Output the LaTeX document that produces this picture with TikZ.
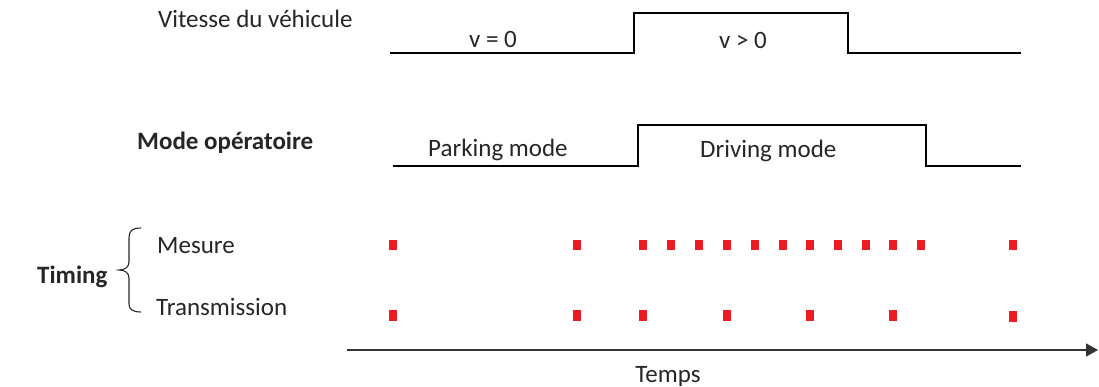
\documentclass[tikz,border=0pt]{standalone}
\usepackage{fontspec}
\setmainfont{Carlito}
\usetikzlibrary{arrows.meta}
\definecolor{txt}{HTML}{262626}
\definecolor{mark}{HTML}{ED1C24}
\begin{document}
\begin{tikzpicture}[x=1pt,y=-1pt,
  lbl/.style={inner sep=0pt,anchor=base west,text=txt,font=\fontsize{25}{30}\selectfont},
  clbl/.style={lbl,anchor=base},
  blbl/.style={lbl,font=\fontsize{25}{30}\selectfont\bfseries},
  wave/.style={line width=1.8pt,line join=miter},
  sq/.style={fill=mark,draw=none,minimum width=8pt,minimum height=10pt,inner sep=0pt}]
\useasboundingbox (0,0) rectangle (1099,387);
% texts
\node[lbl] (vit) at (158,28) {Vitesse du véhicule};
\node[clbl] (v0) at (493,48) {v = 0};
\node[clbl] (vp) at (743,49) {v > 0};
\node[blbl] (mode) at (137,150) {Mode opératoire};
\node[lbl] (park) at (428,157) {Parking mode};
\node[lbl] (drive) at (700,158) {Driving mode};
\node[blbl] (timing) at (37,283) {Timing};
\node[lbl] (mes) at (157,253) {Mesure};
\node[lbl] (trans) at (156,315) {Transmission};
\node[clbl] (temps) at (668,382) {Temps};
% waveforms
\draw[wave] (390,53) -- (634,53) -- (634,13) -- (848,13) -- (848,53) -- (1021,53);
\draw[wave] (393,166) -- (638,166) -- (638,125) -- (926,125) -- (926,166) -- (1021,166);
% brace
\draw[line width=1.1pt,txt] (141,228) .. controls (132,228) and (129,231) .. (129,238)
  -- (129,262) .. controls (129,267) and (125,270) .. (119,270)
  .. controls (125,270) and (129,273) .. (129,278)
  -- (129,304) .. controls (129,309) and (132,312) .. (141,312);
% time axis
\coordinate (t0) at (347,350);
\coordinate (t1) at (1098,350);
\draw[line width=1.5pt,black!80,-{Triangle[length=12pt,width=13pt]}] (t0) -- (t1);
% measurement marks
\foreach \x [count=\i] in {393,577,643,671,699,727,755,783,810,838,866,893,921,1013}
  \node[sq] (m\i) at (\x,245) {};
\foreach \x [count=\i] in {393,577,643,727,810,893}
  \node[sq,minimum height=11pt] (t\i) at (\x,315) {};
\node[sq,minimum height=11pt] (t7) at (1013,316) {};
\end{tikzpicture}
\end{document}
